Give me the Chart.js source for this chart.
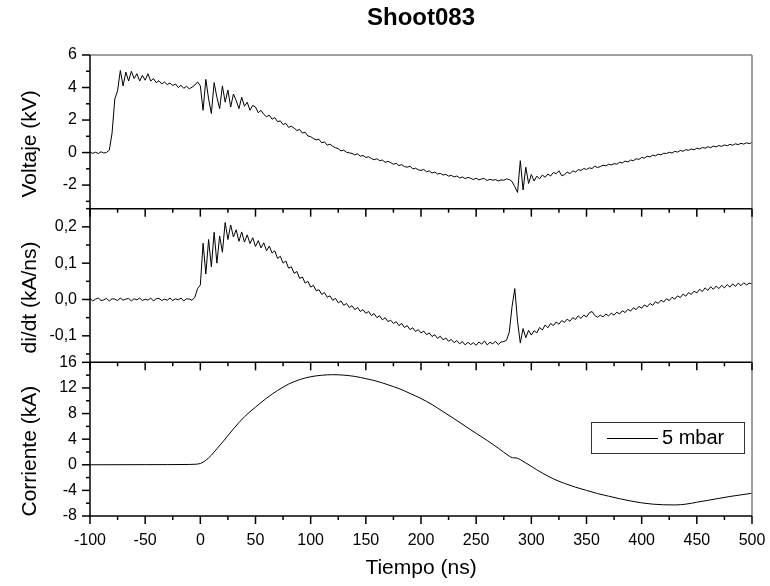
<!DOCTYPE html>
<html><head><meta charset="utf-8">
<script src="https://cdn.jsdelivr.net/npm/chart.js@4.4.1/dist/chart.umd.min.js"></script>
<style>html,body{margin:0;padding:0;background:#fff;}#wrap{width:770px;height:586px;position:relative;}</style>
</head><body><div id="wrap"><canvas id="c" width="770" height="586"></canvas></div>
<script>
const titulo = 'Shoot083';
const etiquetaX = 'Tiempo (ns)';
const etiquetaV = 'Voltaje (kV)';
const etiquetaD = 'di/dt (kA/ns)';
const etiquetaI = 'Corriente (kA)';
const leyenda = '5 mbar';
const inicio = -100, paso = 2.5; // sampling grid of the scope traces (ns)

const voltaje = [
0.04, -0.05, 0.02, -0.06, 0.05, -0.03, 0.01, 0.15, 1.2, 3.3,
3.8, 5.05, 4.1, 4.95, 4.4, 5.0, 4.55, 4.85, 4.4, 4.75,
4.45, 4.85, 4.4, 4.55, 4.3, 4.42, 4.22, 4.34, 4.18, 4.28,
4.12, 4.22, 4.0, 4.14, 3.95, 4.08, 3.92, 4.02, 4.15, 4.35,
4.1, 2.6, 4.5, 3.3, 2.4, 4.3, 3.4, 2.7, 4.1, 3.1,
3.85, 2.8, 3.6, 3.2, 2.7, 3.4, 2.85, 3.1, 2.6, 2.9,
2.8, 2.45, 2.6, 2.35, 2.2, 2.3, 2.05, 2.15, 1.9, 1.95,
1.72, 1.8, 1.55, 1.62, 1.5, 1.36, 1.42, 1.2, 1.25, 1.02,
0.98, 0.86, 0.78, 0.82, 0.6, 0.66, 0.45, 0.52, 0.38, 0.3,
0.24, 0.1, 0.15, 0.02, -0.02, -0.05, -0.14, -0.08, -0.22, -0.18,
-0.3, -0.26, -0.36, -0.44, -0.38, -0.5, -0.46, -0.6, -0.54, -0.62,
-0.72, -0.66, -0.8, -0.74, -0.86, -0.9, -0.84, -1.0, -0.96, -1.06,
-1.1, -1.04, -1.18, -1.12, -1.26, -1.2, -1.32, -1.28, -1.38, -1.34,
-1.45, -1.4, -1.5, -1.44, -1.56, -1.5, -1.6, -1.53, -1.58, -1.66,
-1.58, -1.68, -1.62, -1.6, -1.72, -1.64, -1.7, -1.66, -1.75, -1.68,
-1.7, -1.62, -1.66, -1.78, -2.1, -2.45, -0.5, -2.3, -0.9, -1.9,
-1.35, -1.75, -1.45, -1.62, -1.38, -1.52, -1.32, -1.44, -1.22, -1.3,
-1.12, -1.42, -1.36, -1.2, -1.3, -1.12, -1.2, -1.05, -1.1, -0.98,
-1.04, -0.94, -0.98, -0.84, -0.92, -0.86, -0.78, -0.82, -0.72, -0.76,
-0.68, -0.72, -0.6, -0.64, -0.52, -0.58, -0.46, -0.5, -0.38, -0.42,
-0.3, -0.34, -0.22, -0.27, -0.16, -0.2, -0.1, -0.14, -0.04, -0.06,
0.02, -0.03, 0.08, 0.03, 0.13, 0.08, 0.18, 0.14, 0.22, 0.17,
0.27, 0.22, 0.31, 0.27, 0.36, 0.3, 0.4, 0.35, 0.43, 0.38,
0.47, 0.42, 0.5, 0.45, 0.54, 0.49, 0.57, 0.52, 0.6, 0.55,
0.62];

const didt = [
0.003, -0.004, 0.001, 0.004, -0.003, -0.001, 0.003, -0.004, 0.002, 0.001,
-0.003, 0.004, -0.002, 0.001, 0.003, -0.004, 0.002, -0.001, 0.004, -0.003,
0.001, -0.002, 0.004, -0.004, 0.002, 0.003, -0.003, 0.001, -0.002, 0.004,
-0.003, 0.002, -0.001, 0.004, -0.004, 0.002, 0.001, -0.002, 0.006, 0.03,
0.04, 0.155, 0.07, 0.165, 0.09, 0.185, 0.1, 0.175, 0.13, 0.212,
0.165, 0.205, 0.172, 0.192, 0.16, 0.186, 0.158, 0.178, 0.154, 0.17,
0.146, 0.162, 0.142, 0.156, 0.134, 0.147, 0.128, 0.134, 0.113, 0.119,
0.1, 0.106, 0.086, 0.09, 0.072, 0.077, 0.058, 0.062, 0.045, 0.05,
0.034, 0.039, 0.024, 0.027, 0.014, 0.019, 0.006, 0.01, -0.002, 0.003,
-0.009, -0.004, -0.016, -0.011, -0.022, -0.017, -0.028, -0.022, -0.033, -0.028,
-0.038, -0.033, -0.044, -0.039, -0.05, -0.045, -0.056, -0.05, -0.061, -0.057,
-0.066, -0.061, -0.072, -0.066, -0.077, -0.072, -0.083, -0.078, -0.088, -0.083,
-0.092, -0.087, -0.097, -0.092, -0.102, -0.097, -0.107, -0.101, -0.111, -0.106,
-0.115, -0.11, -0.119, -0.113, -0.122, -0.116, -0.125, -0.118, -0.124, -0.119,
-0.126, -0.117, -0.123, -0.114, -0.125, -0.118, -0.122, -0.115, -0.124, -0.117,
-0.116, -0.112, -0.09, -0.02, 0.03, -0.06, -0.12, -0.08, -0.105, -0.085,
-0.098, -0.086, -0.092, -0.077, -0.084, -0.07, -0.078, -0.066, -0.072, -0.062,
-0.068, -0.058, -0.063, -0.054, -0.06, -0.05, -0.055, -0.045, -0.052, -0.043,
-0.048, -0.037, -0.033, -0.044, -0.049, -0.043, -0.048, -0.04, -0.045, -0.038,
-0.043, -0.035, -0.04, -0.031, -0.036, -0.027, -0.032, -0.023, -0.028, -0.019,
-0.024, -0.015, -0.02, -0.011, -0.016, -0.006, -0.011, -0.002, -0.007, 0.002,
-0.003, 0.006, 0.001, 0.01, 0.005, 0.015, 0.009, 0.019, 0.014, 0.023,
0.018, 0.028, 0.022, 0.032, 0.025, 0.035, 0.028, 0.037, 0.03, 0.039,
0.032, 0.041, 0.034, 0.043, 0.036, 0.045, 0.038, 0.046, 0.04, 0.045,
0.043];

const tiempoI = [-100, -50, -10, -5, 0, 5, 10, 15, 20, 30, 40, 50, 60, 70, 80, 90, 100, 110, 120, 130,
140, 150, 160, 170, 180, 190, 200, 210, 220, 230, 240, 250, 260, 270, 280, 283, 287, 290, 300, 310,
320, 330, 340, 350, 360, 370, 380, 390, 400, 410, 420, 430, 440, 450, 460, 470, 480, 490, 500];
const corriente = [0, 0.02, 0.05, 0.08, 0.2, 0.7, 1.5, 2.5, 3.5, 5.6, 7.5, 9.0, 10.4, 11.6, 12.6, 13.3, 13.75, 13.98, 14.07, 14.0,
13.8, 13.45, 13.05, 12.5, 11.9, 11.15, 10.35, 9.4, 8.3, 7.2, 6.05, 4.9, 3.8, 2.6, 1.35, 1.1, 1.05, 0.8, -0.25, -1.3,
-2.2, -2.9, -3.5, -4.0, -4.5, -4.9, -5.3, -5.65, -5.95, -6.15, -6.25, -6.27, -6.15, -5.85, -5.55, -5.25, -4.95, -4.7, -4.45];

const tiempo = voltaje.map((_, i) => inicio + i * paso);
const FONT = "'Liberation Sans', Arial, sans-serif";
const panelTitles = { yV: etiquetaV, yD: etiquetaD, yI: etiquetaI };

const panelPlugin = {
  id: 'panelFrame',
  afterDraw(chart) {
    const ctx = chart.ctx, xs = chart.scales.x;
    const L = chart.chartArea.left, R = chart.chartArea.right;
    const panels = [chart.scales.yV, chart.scales.yD, chart.scales.yI];
    const seg = (x1, y1, x2, y2) => { ctx.beginPath(); ctx.moveTo(x1, y1); ctx.lineTo(x2, y2); ctx.stroke(); };
    ctx.save();
    ctx.lineWidth = 1.5;
    ctx.strokeStyle = '#808080';
    seg(L, panels[0].top, R, panels[0].top);
    seg(R, panels[0].top, R, panels[2].bottom);
    ctx.strokeStyle = '#000';
    const xMaj = xs.ticks.map(t => t.value);
    const xStep = xMaj[1] - xMaj[0];
    panels.forEach(s => {
      seg(L, s.bottom, R, s.bottom);
      seg(L, s.top, L, s.bottom);
      xMaj.forEach(v => { const x = xs.getPixelForValue(v); seg(x, s.bottom, x, s.bottom + 8); });
      xMaj.forEach(v => { const m = v + xStep / 2; if (m < xs.max) { const x = xs.getPixelForValue(m); seg(x, s.bottom, x, s.bottom + 4); } });
      const yMaj = s.ticks.map(t => t.value);
      const yStep = yMaj[1] - yMaj[0];
      yMaj.forEach(v => { const y = s.getPixelForValue(v); seg(L - 8, y, L, y); });
      [yMaj[0] - yStep / 2].concat(yMaj.map(v => v + yStep / 2)).forEach(m => {
        if (m >= s.min - 1e-9 && m <= s.max + 1e-9) { const y = s.getPixelForValue(m); seg(L - 4, y, L, y); }
      });
      // panel (axis) title, rotated
      ctx.save();
      ctx.fillStyle = '#000';
      ctx.font = '21px ' + FONT;
      ctx.textAlign = 'center'; ctx.textBaseline = 'middle';
      ctx.translate(s.left + 30.5, (s.top + s.bottom) / 2 + 12);
      ctx.rotate(-Math.PI / 2);
      ctx.fillText(panelTitles[s.id], 0, 0);
      ctx.restore();
    });
    // legend box inside the current panel
    const sI = chart.scales.yI;
    const bw = 153, bh = 31;
    const bx = R - 8 - bw, by = sI.top + 60;
    ctx.lineWidth = 1; ctx.strokeStyle = '#333';
    ctx.strokeRect(Math.round(bx) + 0.5, Math.round(by) + 0.5, bw, bh);
    ctx.strokeStyle = '#000';
    seg(bx + 16, Math.round(by + bh / 2) + 0.5, bx + 67, Math.round(by + bh / 2) + 0.5);
    ctx.fillStyle = '#000';
    ctx.font = '20px ' + FONT;
    ctx.textBaseline = 'middle'; ctx.textAlign = 'left';
    ctx.fillText(leyenda, bx + 71, by + bh / 2 + 1);
    ctx.restore();
  }
};

const yCommon = () => ({
  type: 'linear', position: 'left', stack: 'panels', stackWeight: 1,
  grid: { display: false, drawTicks: false }, border: { display: false },
  ticks: { color: '#000', font: { family: FONT, size: 16 }, padding: 13, includeBounds: false, autoSkip: false },
  title: { display: false },
  afterFit: (s) => { s.width = 90; }
});

const scales = {
  x: {
    type: 'linear', min: -100, max: 500,
    grid: { display: false, drawTicks: false }, border: { display: false },
    ticks: { stepSize: 50, color: '#000', font: { family: FONT, size: 16 }, padding: 15, maxRotation: 0, autoSkip: false, includeBounds: false },
    title: { display: true, text: etiquetaX, color: '#000', font: { family: FONT, size: 21 }, padding: { top: 0, bottom: 5 } },
    afterFit: (s) => { s.height = 70; s.paddingLeft = 17; s.paddingRight = 13; }
  },
  yI: Object.assign(yCommon(), { min: -8, max: 16, weight: 1 }),
  yD: Object.assign(yCommon(), { min: -0.173, max: 0.25, weight: 2 }),
  yV: Object.assign(yCommon(), { min: -3.45, max: 6, weight: 3 })
};
scales.yI.ticks = Object.assign({}, scales.yI.ticks, { stepSize: 4 });
scales.yD.ticks = Object.assign({}, scales.yD.ticks, { stepSize: 0.1, callback: (v) => (Math.abs(v) < 1e-9 ? 0 : v).toFixed(1).replace('.', ',') });
scales.yV.ticks = Object.assign({}, scales.yV.ticks, { stepSize: 2 });

new Chart(document.getElementById('c'), {
  type: 'line',
  data: {
    datasets: [
      { label: etiquetaV, data: tiempo.map((t, i) => ({ x: t, y: voltaje[i] })), xAxisID: 'x', yAxisID: 'yV',
        borderColor: '#000', borderWidth: 1, pointRadius: 0, tension: 0 },
      { label: etiquetaD, data: tiempo.map((t, i) => ({ x: t, y: didt[i] })), xAxisID: 'x', yAxisID: 'yD',
        borderColor: '#000', borderWidth: 1, pointRadius: 0, tension: 0 },
      { label: leyenda, data: tiempoI.map((t, i) => ({ x: t, y: corriente[i] })), xAxisID: 'x', yAxisID: 'yI',
        borderColor: '#000', borderWidth: 1, pointRadius: 0, cubicInterpolationMode: 'monotone' }
    ]
  },
  options: {
    responsive: false, animation: false, devicePixelRatio: 1,
    layout: { padding: { left: 0, right: 18, top: 0, bottom: 0 } },
    scales,
    plugins: {
      legend: { display: false },
      tooltip: { enabled: false },
      title: { display: true, text: titulo, fullSize: false, color: '#000',
        font: { family: FONT, size: 24, weight: 'bold' }, padding: { top: 4, bottom: 22.2 } }
    }
  },
  plugins: [panelPlugin]
});
</script></body></html>
